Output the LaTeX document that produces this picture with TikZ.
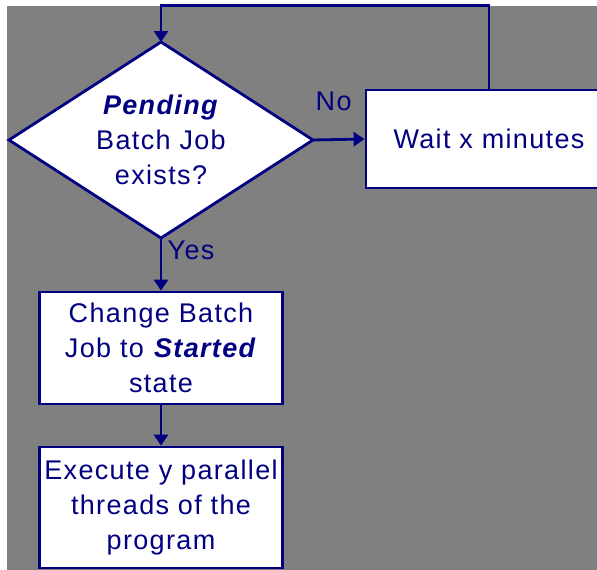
\documentclass[tikz,border=0pt]{standalone}
\usepackage{fontspec}
\setmainfont[LetterSpace=5]{Liberation Sans}
\usetikzlibrary{arrows.meta,shapes.geometric,positioning}
\definecolor{navy}{RGB}{0,0,128}
\definecolor{bggray}{RGB}{128,128,128}

\begin{document}
\begin{tikzpicture}[x=1pt,y=-1pt,
  every node/.style={text=navy,font=\fontsize{27}{35}\selectfont,align=center},
  box/.style={draw=navy,fill=white,line width=2.8pt,minimum width=243pt,inner sep=0pt},
  flow/.style={draw=navy,line width=2.8pt,-{Triangle[length=11pt,width=14pt]}}]
\clip (0,0) rectangle (597,570);
\fill[white] (0,0) rectangle (597,570);
\fill[bggray] (7,6) rectangle (597,570);
% decision
\node[diamond,aspect=1.55,draw=navy,fill=white,line width=2.8pt,minimum width=304pt,minimum height=196pt,inner sep=0pt,outer sep=0pt] (dec) at (161,140) {\textbf{\textit{Pending}}\\Batch Job\\exists?};
% waiting
\node[box,minimum width=246pt,minimum height=98pt] (wait) at (489,139) {Wait x minutes};
% started state
\node[box,minimum height=112pt] (start) at (161,348) {Change Batch\\Job to \textbf{\textit{Started}}\\state};
\node[box,minimum height=121pt] (exec) at (161,507.5) {Execute y parallel\\threads of the\\program};
% connectors
\draw[flow] (dec.east) -- (wait.west) node[pos=0.4,above=24pt]{No};
\draw[flow] (dec.south) -- (start.north) node[pos=0.23,right=2pt]{Yes};
\draw[flow] (start.south) -- (exec.north);
\draw[flow] (wait.north) -- ++(0,-83) -| (dec.north);
\end{tikzpicture}
\end{document}
